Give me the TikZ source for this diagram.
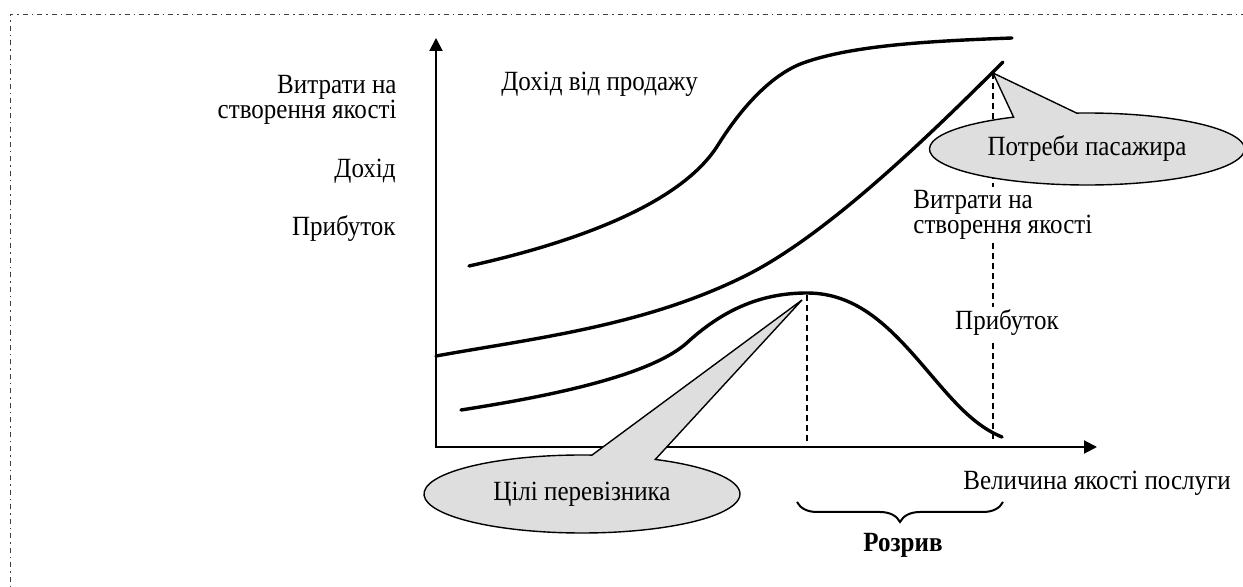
\documentclass[tikz,border=0pt]{standalone}
\usepackage{fontspec}
\setmainfont{Liberation Serif}[FakeStretch=0.9]
\usetikzlibrary{arrows.meta,shapes.callouts,decorations.pathreplacing}
\begin{document}
\begin{tikzpicture}[x=0.5pt,y=-0.5pt,
  font=\fontsize{13.9}{12.5}\selectfont,
  axis/.style={line width=1pt,line join=miter},
  curve/.style={line width=1.7pt,line cap=round},
  guide/.style={line width=0.6pt,dash pattern=on 3pt off 2pt},
  bubble/.style={ellipse callout,draw,line width=0.7pt,fill=black!13,inner sep=1pt,callout pointer arc=24},
  lbl/.style={inner sep=1pt},
  wlbl/.style={inner sep=1.5pt,fill=white},
]
\useasboundingbox (0,0) rectangle (1243,587);
% frame
\draw[line width=0.5pt,black!75,dash pattern=on 2.5pt off 2pt on 0.75pt off 2pt] (10,640) -- (10,15) -- (1300,15);

\coordinate (O) at (436,447);
\coordinate (ytip) at (436,38);
\coordinate (xtip) at (1097,447);
\coordinate (peak) at (802,300);
\coordinate (need) at (993,73);

% guides
\draw[guide] (807,295) -- (807,442);
\draw[guide] (need) -- (993,440);

% revenue curve
\draw[curve] (469,266) .. controls (559,246) and (678,209) .. (718,145)
  .. controls (743,105) and (773,74) .. (803,63)
  .. controls (853,45) and (932,41) .. (1012,38);
% cost curve
\draw[curve] (436,356) .. controls (536,338) and (643,326) .. (743,277)
  .. controls (823,238) and (923,142) .. (1003,62);
% profit curve
\draw[curve] (461,410) .. controls (551,396) and (655,375) .. (690,340)
  .. controls (725,309) and (762,293) .. (807,293)
  .. controls (857,293) and (890,327) .. (925,368)
  .. controls (950,397) and (972,425) .. (1002,437);

% axes
\draw[axis,{Triangle[length=6.5pt,width=6.5pt]}-{Triangle[length=6.5pt,width=6.5pt]}] (ytip) -- (O) -- (xtip);

% callouts
\node[bubble,minimum width=157.5pt,minimum height=36pt,callout absolute pointer={(need)}] (needs) at (1087,149) {Потреби пасажира};
\node[bubble,minimum width=158pt,minimum height=39pt,callout absolute pointer={(peak)}] (goals) at (582,494) {Цілі перевізника};

% left labels
\node[lbl,anchor=north east,align=right] (ycost) at (399,73) {Витрати на\\створення якості};
\node[lbl,anchor=base east] (yinc) at (398,178) {Дохід};
\node[lbl,anchor=base east] (yprof) at (398,236) {Прибуток};

% curve labels
\node[lbl,anchor=base west] (lsales) at (499,91) {Дохід від продажу};
\node[wlbl,anchor=north west,align=left] (lcost) at (910,187) {Витрати на\\створення якості};
\node[wlbl,anchor=base] (lprof) at (1007,330) {Прибуток};
\node[lbl,anchor=base west] (xlab) at (961,490) {Величина якості послуги};

% brace
\draw[line width=1pt,decorate,decoration={brace,amplitude=10pt}] (1003,502) -- (797,502);
\node[lbl,anchor=base,font=\fontsize{13.9}{12.5}\selectfont\bfseries] (gap) at (903,552) {Розрив};
\end{tikzpicture}
\end{document}
